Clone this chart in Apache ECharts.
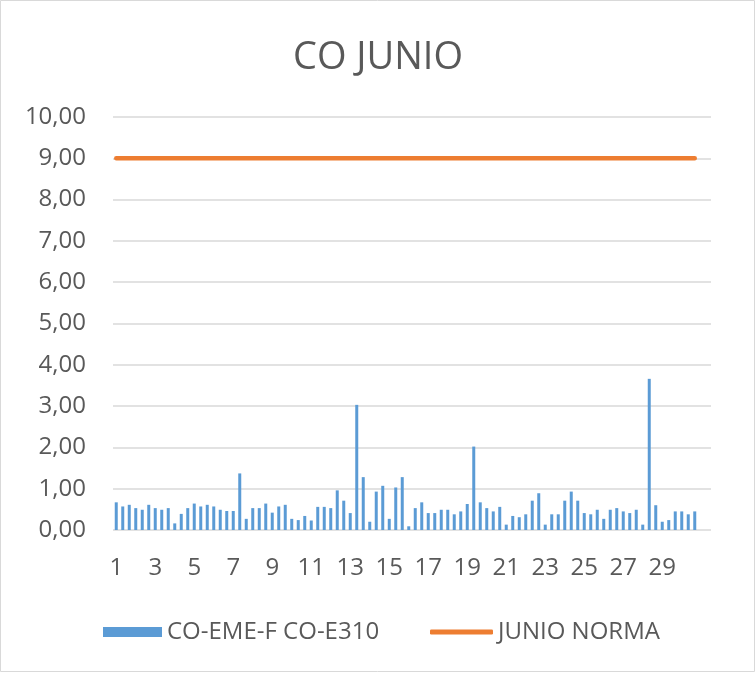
<!DOCTYPE html>
<html>
<head>
<meta charset="utf-8">
<script src="https://cdn.jsdelivr.net/npm/echarts@6/dist/echarts.min.js"></script>
<style>
  html, body { margin: 0; padding: 0; background: #fff; }
  #chart { width: 756px; height: 673px; }
</style>
</head>
<body>
<div id="chart"></div>
<script>
// three readings per day, 30 days of June
const days = 30
const perDay = 3

const coValues = [
  0.67, 0.57, 0.61, 0.53, 0.49, 0.61, 0.53, 0.49, 0.53, 0.16,
  0.39, 0.53, 0.64, 0.57, 0.61, 0.57, 0.49, 0.46, 0.46, 1.37,
  0.27, 0.53, 0.53, 0.64, 0.42, 0.57, 0.61, 0.27, 0.24, 0.34,
  0.23, 0.56, 0.56, 0.53, 0.96, 0.71, 0.41, 3.03, 1.28, 0.20,
  0.93, 1.07, 0.27, 1.03, 1.28, 0.09, 0.53, 0.67, 0.41, 0.41,
  0.49, 0.49, 0.38, 0.45, 0.63, 2.02, 0.67, 0.53, 0.45, 0.56,
  0.13, 0.34, 0.31, 0.38, 0.71, 0.89, 0.13, 0.38, 0.38, 0.71,
  0.93, 0.71, 0.41, 0.38, 0.49, 0.27, 0.49, 0.53, 0.45, 0.41,
  0.49, 0.13, 3.66, 0.60, 0.20, 0.24, 0.45, 0.45, 0.38, 0.45
]

const normaValues = [
  9, 9, 9, 9, 9, 9, 9, 9, 9, 9,
  9, 9, 9, 9, 9, 9, 9, 9, 9, 9,
  9, 9, 9, 9, 9, 9, 9, 9, 9, 9,
  9, 9, 9, 9, 9, 9, 9, 9, 9, 9,
  9, 9, 9, 9, 9, 9, 9, 9, 9, 9,
  9, 9, 9, 9, 9, 9, 9, 9, 9, 9,
  9, 9, 9, 9, 9, 9, 9, 9, 9, 9,
  9, 9, 9, 9, 9, 9, 9, 9, 9, 9,
  9, 9, 9, 9, 9, 9, 9, 9, 9, 9
]

// category labels: day number on the first reading of each day, two empty slots at the end
const categories = []
for (let i = 0; i < days * perDay + 2; i++) {
  categories.push(i < days * perDay && i % perDay === 0 ? String(i / perDay + 1) : '')
}

const yTicks = { min: 0, max: 10, interval: 1 }

const textColor = '#595959'
const font = '"Open Sans", "Liberation Sans", sans-serif'

const chart = echarts.init(document.getElementById('chart'))

chart.setOption({
  animation: false,
  backgroundColor: '#fff',
  textStyle: { fontFamily: font },
  graphic: [{
    type: 'rect',
    shape: { x: 0.5, y: 0.5, width: 754, height: 671 },
    style: { fill: 'none', stroke: '#d9d9d9', lineWidth: 1 },
    silent: true
  }],
  title: {
    text: 'CO JUNIO',
    left: 'center',
    top: 34,
    textStyle: { fontFamily: font, fontSize: 38, fontWeight: 'normal', color: textColor }
  },
  legend: [{
    data: ['CO-EME-F CO-E310'],
    left: 103,
    top: 620,
    padding: 0,
    icon: 'rect',
    itemWidth: 59,
    itemHeight: 10,
    textStyle: { fontFamily: font, fontSize: 24, color: textColor }
  }, {
    data: ['JUNIO NORMA'],
    left: 430,
    top: 620,
    padding: 0,
    icon: 'roundRect',
    itemWidth: 63,
    itemHeight: 5,
    textStyle: { fontFamily: font, fontSize: 24, color: textColor }
  }],
  grid: { left: 113, right: 45, top: 117, bottom: 143, containLabel: false },
  xAxis: {
    type: 'category',
    data: categories,
    boundaryGap: true,
    axisLine: { show: false },
    axisTick: { show: false },
    axisLabel: {
      interval: 5,
      margin: 26,
      fontSize: 24,
      fontFamily: font,
      color: textColor
    }
  },
  yAxis: {
    type: 'value',
    min: yTicks.min,
    max: yTicks.max,
    interval: yTicks.interval,
    axisLine: { show: false },
    axisTick: { show: false },
    splitLine: { lineStyle: { color: '#d9d9d9', width: 1.5 } },
    axisLabel: {
      margin: 27,
      fontSize: 24,
      fontFamily: font,
      color: textColor,
      formatter: v => v.toFixed(2).replace('.', ',')
    }
  },
  series: [{
    name: 'CO-EME-F CO-E310',
    type: 'bar',
    data: coValues,
    barWidth: 3,
    itemStyle: { color: '#5B9BD5' }
  }, {
    name: 'JUNIO NORMA',
    type: 'line',
    data: normaValues,
    symbol: 'none',
    lineStyle: { color: '#ED7D31', width: 4.5, cap: 'round' },
    itemStyle: { color: '#ED7D31' }
  }]
})
</script>
</body>
</html>
